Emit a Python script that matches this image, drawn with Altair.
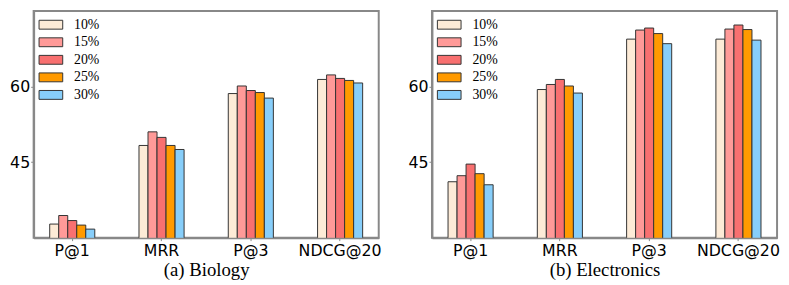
import altair as alt
import pandas as pd

metrics = ["P@1", "MRR", "P@3", "NDCG@20"]
ratios = ["10%", "15%", "20%", "25%", "30%"]
colors = ["#FDEBD7", "#FF9A98", "#F87070", "#FF9A00", "#87CEFA"]

# values per ratio, in metric order
biology = {
    "10%": [32.7, 48.3, 58.6, 61.4],
    "15%": [34.4, 51.0, 60.1, 62.3],
    "20%": [33.4, 49.9, 59.2, 61.6],
    "25%": [32.5, 48.3, 58.8, 61.2],
    "30%": [31.7, 47.5, 57.7, 60.7],
}
electronics = {
    "10%": [41.1, 59.4, 69.4, 69.4],
    "15%": [42.3, 60.4, 71.2, 71.4],
    "20%": [44.6, 61.4, 71.6, 72.2],
    "25%": [42.7, 60.1, 70.5, 71.3],
    "30%": [40.5, 58.7, 68.5, 69.2],
}
titles = ["(a) Biology", "(b) Electronics"]


def make_df(d):
    rows = []
    for r in ratios:
        for m, v in zip(metrics, d[r]):
            rows.append({"metric": m, "ratio": r, "value": v})
    return pd.DataFrame(rows)


def panel(d, title):
    df = make_df(d)
    return alt.Chart(df).mark_bar(
        stroke="#333333", strokeWidth=1, clip=True
    ).encode(
        x=alt.X("metric:N", sort=metrics,
                scale=alt.Scale(paddingInner=0.495, paddingOuter=0.18),
                axis=alt.Axis(title=title, labelAngle=0, labelFont="DejaVu Sans",
                              labelFontSize=16, labelColor="black", labelPadding=2,
                              titleFont="Liberation Serif", titleFontSize=19,
                              titleFontWeight="normal", titleColor="black",
                              titlePadding=2, tickSize=3, tickColor="#888888",
                              domainColor="#888888", domainWidth=2)),
        xOffset=alt.XOffset("ratio:N", sort=ratios,
                            scale=alt.Scale(paddingInner=0, paddingOuter=0)),
        y=alt.Y("value:Q", scale=alt.Scale(domain=[30, 75], zero=False, nice=False),
                axis=alt.Axis(title=None, values=[45, 60], grid=False,
                              labelFont="DejaVu Sans", labelFontSize=16,
                              labelColor="black", tickSize=3, tickColor="#888888",
                              labelPadding=1,
                              domainColor="#888888", domainWidth=2)),
        color=alt.Color("ratio:N", sort=ratios,
                        scale=alt.Scale(domain=ratios, range=colors),
                        legend=alt.Legend(
                            title=None, orient="none", legendX=10.5, legendY=7,
                            symbolType="M-2.667,-1L2.667,-1L2.667,1L-2.667,1Z",
                            symbolSize=81, symbolStrokeColor="#333333",
                            symbolStrokeWidth=1,
                            labelFont="Liberation Serif", labelFontSize=14,
                            labelColor="black", labelOffset=16.5, rowPadding=3.8,
                            padding=0)),
    ).properties(width=350, height=230)


chart = alt.hconcat(
    panel(biology, titles[0]), panel(electronics, titles[1]), spacing=24
).resolve_scale(color="independent").configure_view(
    stroke="#888888", strokeWidth=2
).properties(padding={"left": 0, "top": 0, "right": 0, "bottom": 0})

chart.save("out.html", embed_options={"renderer": "svg", "actions": False})
